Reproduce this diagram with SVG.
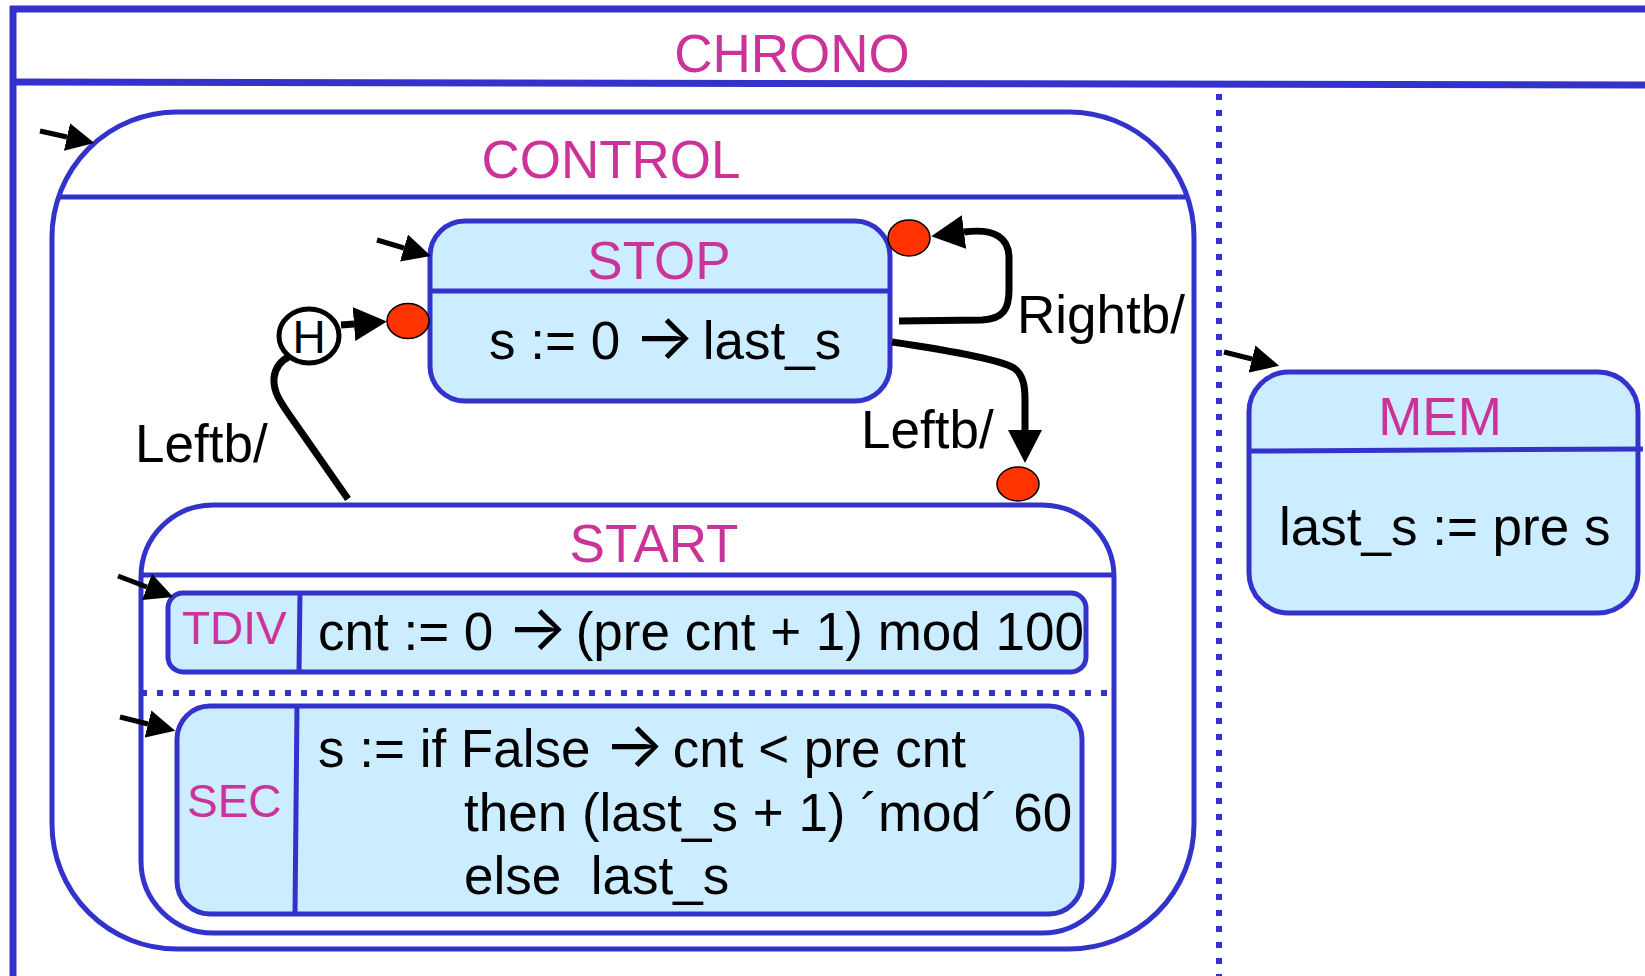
<svg xmlns="http://www.w3.org/2000/svg" width="1645" height="976" viewBox="0 0 1645 976">
  <defs>
    <style>
      .frame{fill:none;stroke:#3333CC;stroke-width:7}
      .box{fill:none;stroke:#3333CC;stroke-width:5}
      .state{fill:#CCECFF;stroke:#3333CC;stroke-width:5}
      .sep{fill:none;stroke:#3333CC;stroke-width:5}
      .dots{fill:none;stroke:#3333CC;stroke-width:6;stroke-dasharray:6 10}
      .name{font-family:"Liberation Sans",Arial,sans-serif;font-size:53px;fill:#CC3399;text-anchor:middle}
      .sname{font-family:"Liberation Sans",Arial,sans-serif;font-size:46px;fill:#CC3399}
      .code{font-family:"Liberation Sans",Arial,sans-serif;font-size:53px;fill:#000000}
      .arr{font-family:Inter,"DejaVu Sans",sans-serif;font-size:64px}
      .trans{fill:none;stroke:#000000;stroke-width:7}
      .init{fill:none;stroke:#000000;stroke-width:5}
      .port{fill:#FF3300;stroke:#000000;stroke-width:1.5}
      .hist{fill:#FFFFFF;stroke:#000000;stroke-width:5}
    </style>
    <marker id="bighead" markerUnits="userSpaceOnUse" viewBox="0 -17 34 34" markerWidth="34" markerHeight="34" refX="0" refY="0" orient="auto">
      <path d="M0,-17 L33,0 L0,17 z" fill="#000000"/>
    </marker>
    <marker id="smallhead" markerUnits="userSpaceOnUse" viewBox="0 -14 28 28" markerWidth="28" markerHeight="28" refX="0" refY="0" orient="auto">
      <path d="M0,-14 L28,0 L0,14 z" fill="#000000"/>
    </marker>
  </defs>

  <rect width="1645" height="976" fill="#FFFFFF"/>

  <!-- CHRONO: top-level parallel state -->
  <g id="chrono">
    <line class="frame" x1="10" y1="9" x2="1645" y2="9"/>
    <line class="frame" x1="13" y1="6" x2="13" y2="976"/>
    <line class="frame" x1="13" y1="82" x2="1645" y2="85"/>
    <text class="name" x="792" y="72">CHRONO</text>
    <line class="dots" x1="1219" y1="94" x2="1219" y2="976"/>
  </g>

  <!-- CONTROL region -->
  <g id="control">
    <rect class="box" x="52" y="112" width="1142" height="837" rx="125" ry="125"/>
    <line class="sep" x1="58" y1="197" x2="1188" y2="197"/>
    <text class="name" x="611" y="178">CONTROL</text>
  </g>

  <!-- STOP state -->
  <g id="stop">
    <rect class="state" x="430" y="221" width="460" height="180" rx="35" ry="35"/>
    <line class="sep" x1="430" y1="291" x2="888" y2="291"/>
    <text class="name" x="659" y="279">STOP</text>
    <text class="code" x="489" y="359">s := 0 <tspan class="arr" x="634">→</tspan><tspan x="688"> last_s</tspan></text>
  </g>

  <!-- START state with two parallel sub-regions -->
  <g id="start">
    <rect class="box" x="141" y="505" width="973" height="428" rx="72" ry="72"/>
    <line class="sep" x1="141" y1="575" x2="1114" y2="575"/>
    <text class="name" x="654" y="562">START</text>
    <line class="dots" x1="141" y1="693" x2="1110" y2="693"/>
  </g>

  <g id="tdiv">
    <rect class="state" x="168" y="593" width="918" height="79" rx="15" ry="15"/>
    <line class="sep" x1="300" y1="593" x2="299" y2="672"/>
    <text class="sname" x="182" y="644">TDIV</text>
    <text class="code" x="318" y="650">cnt := 0 <tspan class="arr" x="507">→</tspan><tspan x="561"> (pre cnt + 1) mod 100</tspan></text>
  </g>

  <g id="sec">
    <rect class="state" x="177" y="706" width="905" height="208" rx="33" ry="33"/>
    <line class="sep" x1="297" y1="706" x2="295" y2="914"/>
    <text class="sname" x="187" y="817">SEC</text>
    <text class="code" x="318" y="767">s := if False <tspan class="arr" x="604">→</tspan><tspan x="658"> cnt &lt; pre cnt</tspan></text>
    <text class="code" x="464" y="831">then (last_s + 1) ´mod´ 60</text>
    <text class="code" x="464" y="894" xml:space="preserve">else  last_s</text>
  </g>

  <!-- MEM state -->
  <g id="mem">
    <rect class="state" x="1249" y="372" width="389" height="241" rx="40" ry="40"/>
    <line class="sep" x1="1249" y1="451" x2="1643" y2="449"/>
    <text class="name" x="1440" y="435">MEM</text>
    <text class="code" x="1279" y="545">last_s := pre s</text>
  </g>

  <!-- history connector -->
  <g id="history">
    <ellipse class="hist" cx="309" cy="336" rx="30" ry="27"/>
    <text class="code" x="309" y="353" text-anchor="middle" style="font-size:46px">H</text>
  </g>

  <!-- entry ports -->
  <g id="ports">
    <ellipse class="port" cx="408" cy="321" rx="21" ry="17.5"/>
    <ellipse class="port" cx="909" cy="238" rx="21" ry="18"/>
    <ellipse class="port" cx="1018" cy="484" rx="21" ry="17"/>
  </g>

  <!-- transitions and default arrows -->
  <g id="connectors">
    <path class="init" d="M40,131 L67,137" marker-end="url(#smallhead)"/>
    <path class="init" d="M377,240 L404,248" marker-end="url(#smallhead)"/>
    <path class="init" d="M118,576 L147,587" marker-end="url(#smallhead)"/>
    <path class="init" d="M120,717 L148,724" marker-end="url(#smallhead)"/>
    <path class="init" d="M1224,352 L1252,359" marker-end="url(#smallhead)"/>

    <path class="trans" d="M341,325 L354,324" marker-end="url(#bighead)"/>
    <path class="trans" d="M348,499 L295,423 C280,402 273,392 274,378 C275,368 280,361 290,356"/>
    <path class="trans" d="M899,321 L982,320 C1004,319 1009,308 1009,290 L1009,258 C1009,238 995,228 964,232" marker-end="url(#bighead)"/>
    <path class="trans" d="M892,342 C960,352 1000,360 1014,368 C1024,375 1025,388 1025,400 L1025,430" marker-end="url(#bighead)"/>

    <text class="code" x="1017" y="333">Rightb/</text>
    <text class="code" x="861" y="448">Leftb/</text>
    <text class="code" x="135" y="462">Leftb/</text>
  </g>
</svg>
